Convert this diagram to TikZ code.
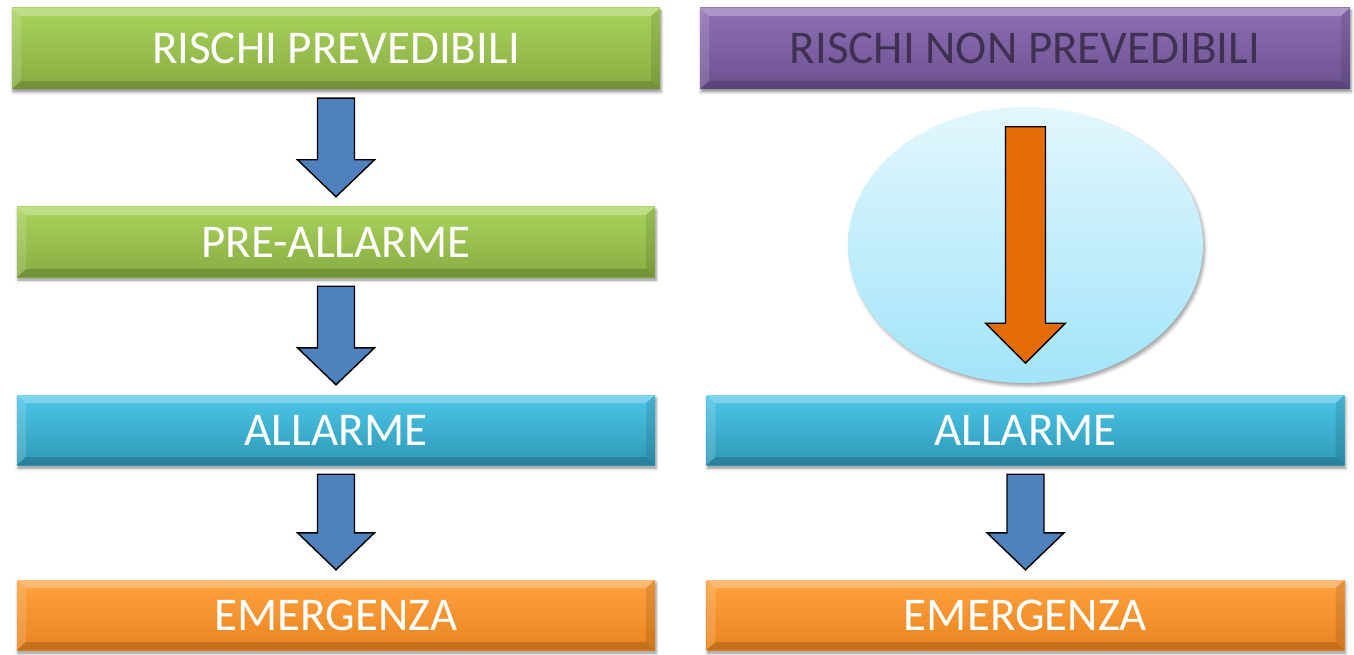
\documentclass[tikz,border=0pt]{standalone}
\usepackage{fontspec}
\setmainfont{Carlito}
\usetikzlibrary{calc,shapes.geometric,shadows.blur}

\definecolor{grtop}{HTML}{A9D35C}
\definecolor{grbot}{HTML}{88AC42}
\definecolor{putop}{HTML}{8E70B6}
\definecolor{pubot}{HTML}{6C5190}
\definecolor{putext}{HTML}{3F3151}
\definecolor{cytop}{HTML}{4DC6E8}
\definecolor{cybot}{HTML}{2E99B6}
\definecolor{ortop}{HTML}{FFA23F}
\definecolor{orbot}{HTML}{E9841F}
\definecolor{arrblue}{HTML}{4F81BD}
\definecolor{arrorange}{HTML}{E36C09}
\definecolor{eltop}{HTML}{E3F7FD}
\definecolor{elbot}{HTML}{A2E4FA}

\tikzset{
  bevel/.style={path picture={
    \fill[white,opacity=.28] let \p1=(path picture bounding box.north west),
      \p2=(path picture bounding box.south east) in
      (\x1,\y1) -- (\x2,\y1) -- (\x2-9pt,\y1-8pt) -- (\x1+9pt,\y1-8pt) -- cycle;
    \fill[white,opacity=.14] let \p1=(path picture bounding box.north west),
      \p2=(path picture bounding box.south east) in
      (\x1,\y1) -- (\x1+9pt,\y1-8pt) -- (\x1+9pt,\y2+8pt) -- (\x1,\y2) -- cycle;
    \fill[black,opacity=.16] let \p1=(path picture bounding box.north west),
      \p2=(path picture bounding box.south east) in
      (\x1,\y2) -- (\x2,\y2) -- (\x2-9pt,\y2+8pt) -- (\x1+9pt,\y2+8pt) -- cycle;
    \fill[black,opacity=.10] let \p1=(path picture bounding box.north west),
      \p2=(path picture bounding box.south east) in
      (\x2,\y1) -- (\x2-9pt,\y1-8pt) -- (\x2-9pt,\y2+8pt) -- (\x2,\y2) -- cycle;
  }},
  box/.style={rectangle, inner sep=0pt, minimum width=638pt, minimum height=70pt,
    text=white, font=\fontsize{47}{47}\selectfont, bevel,
    blur shadow={shadow xshift=1pt, shadow yshift=-3pt, shadow blur radius=3pt, shadow opacity=45}},
  green/.style={top color=grtop, bottom color=grbot},
  purple/.style={top color=putop, bottom color=pubot, text=putext},
  cyan/.style={top color=cytop, bottom color=cybot},
  orange/.style={top color=ortop, bottom color=orbot},
  headbox/.style={box, minimum height=81pt},
  blockarr/.style={draw=black, line width=1.4pt, line join=miter},
}

% block arrow pointing down from one node to the next
\newcommand\dnarrow[3]{%
  \draw[blockarr, fill=#3] let \p1=(#1.south), \p2=(#2.north) in
    (\x1-18.5pt,\y1-9pt) -- (\x1+18.5pt,\y1-9pt) -- (\x1+18.5pt,\y2+47pt)
    -- (\x1+38.5pt,\y2+47pt) -- (\x1,\y2+10pt) -- (\x1-38.5pt,\y2+47pt)
    -- (\x1-18.5pt,\y2+47pt) -- cycle;}

\begin{document}
\begin{tikzpicture}[x=1pt, y=-1pt]
  \useasboundingbox (0,0) rectangle (1354,655);

  % left column
  \node[headbox, green, minimum width=648pt] (rp) at (336,48.5) {RISCHI PREVEDIBILI};
  \node[box, green]  (pre)  at (336,242) {PRE-ALLARME};
  \node[box, cyan]   (allL) at (336,430) {ALLARME};
  \node[box, orange] (emL)  at (336,615) {EMERGENZA};

  % right column
  \node[headbox, purple, minimum width=650pt] (rnp) at (1025,48.5) {RISCHI NON PREVEDIBILI};
  \node[ellipse, inner sep=0pt, minimum width=355pt, minimum height=276pt,
        top color=eltop, bottom color=elbot,
        blur shadow={shadow xshift=2pt, shadow yshift=-3pt, shadow blur radius=3pt, shadow opacity=35}]
        (ell) at (1025.5,245) {};
  \node[box, cyan]   (allR) at (1025.5,430) {ALLARME};
  \node[box, orange] (emR)  at (1025.5,615) {EMERGENZA};

  % connectors
  \dnarrow{rp}{pre}{arrblue}
  \dnarrow{pre}{allL}{arrblue}
  \dnarrow{allL}{emL}{arrblue}
  \dnarrow{allR}{emR}{arrblue}

  \draw[blockarr, fill=arrorange] let \p1=(ell.north), \p2=(ell.south) in
    (\x1-20pt,\y1-20pt) -- (\x1+20pt,\y1-20pt) -- (\x1+20pt,\y2+60pt)
    -- (\x1+40pt,\y2+60pt) -- (\x1,\y2+20pt) -- (\x1-40pt,\y2+60pt)
    -- (\x1-20pt,\y2+60pt) -- cycle;
\end{tikzpicture}
\end{document}
